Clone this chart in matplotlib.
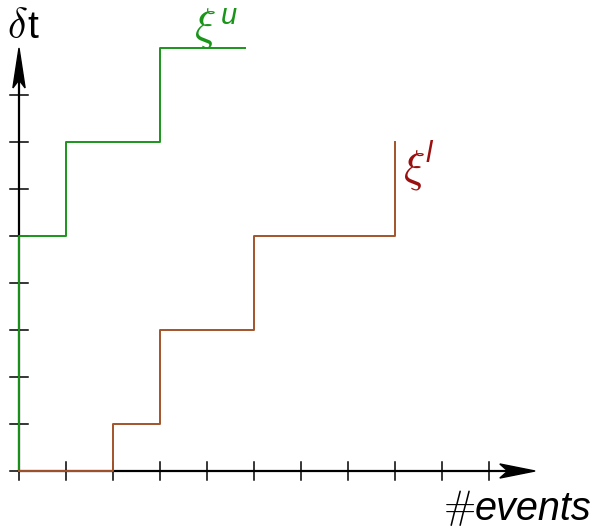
import matplotlib
matplotlib.use("Agg")
import matplotlib.pyplot as plt
from matplotlib.patches import Polygon

# --- data: step bounds (events, delta t) ---
upper_events = [0, 0, 1, 3, 4.8]
upper_dt = [0, 5, 7, 9, 9]
lower_events = [0, 2, 3, 5, 8, 8]
lower_dt = [0, 1, 3, 5, 7, 7]
x_ticks = list(range(0, 11))
y_ticks = list(range(0, 9))

GREEN = "#1a951a"
BROWN = "#a3542a"
DARKRED = "#9a1010"

UNIT = 47.0          # pixels per unit
OX, OY = 19, 471     # origin in pixels


def px(x, y):
    return (x - OX) / UNIT, (OY - y) / UNIT


fig = plt.figure(figsize=(5.94, 5.28), dpi=100)
ax = fig.add_axes([0, 0, 1, 1])
ax.set_xlim(-OX / UNIT, (594 - OX) / UNIT)
ax.set_ylim((OY - 528) / UNIT, OY / UNIT)
ax.axis("off")

# axes lines
ax.plot([0, 10.5], [0, 0], color="black", lw=1.6, zorder=2)
ax.plot([0, 0], [0, 8.5], color="black", lw=1.6, zorder=2)

# stealth arrowheads
ax.add_patch(Polygon([(10.98, 0), (10.23, 0.15), (10.40, 0), (10.23, -0.15)],
                     closed=True, color="black", zorder=3))
ax.add_patch(Polygon([(0, 9.0), (-0.13, 8.15), (0, 8.32), (0.13, 8.15)],
                     closed=True, color="black", zorder=3))

# ticks crossing the axes
t = 0.19
for xt in x_ticks:
    ax.plot([xt, xt], [-t, t], color="black", lw=1.1, zorder=2)
for yt in y_ticks:
    ax.plot([-t, t], [yt, yt], color="black", lw=1.1, zorder=2)

# step curves
ax.step(upper_events, upper_dt, where="post", color=GREEN, lw=1.4, zorder=4)
ax.step(lower_events, lower_dt, where="post", color=BROWN, lw=1.4, zorder=4)

plt.rcParams["mathtext.fontset"] = "cm"
sans = "Liberation Sans"

# axis labels
ax.text(*px(7, 38), r"$\delta$", fontsize=30, ha="left", va="baseline")
ax.text(*px(27, 38), "t", fontsize=28, family=sans, ha="left", va="baseline")
ax.text(*px(443, 518), r"$\#$", fontsize=28, ha="left", va="baseline")
ax.text(*px(475, 520), "events", fontsize=28.5, family=sans, style="italic",
        ha="left", va="baseline")

# curve labels
ax.text(*px(194, 38), r"$\xi$", fontsize=32, color=GREEN, ha="left", va="baseline")
ax.text(*px(221, 24), "u", fontsize=21, family=sans, style="italic",
        color=GREEN, ha="left", va="baseline")
ax.text(*px(403, 180), r"$\xi$", fontsize=32, color=DARKRED, ha="left", va="baseline")
ax.text(*px(426, 162), "l", fontsize=21, family=sans, style="italic",
        color=DARKRED, ha="left", va="baseline")

fig.savefig("out.png", dpi=100)
